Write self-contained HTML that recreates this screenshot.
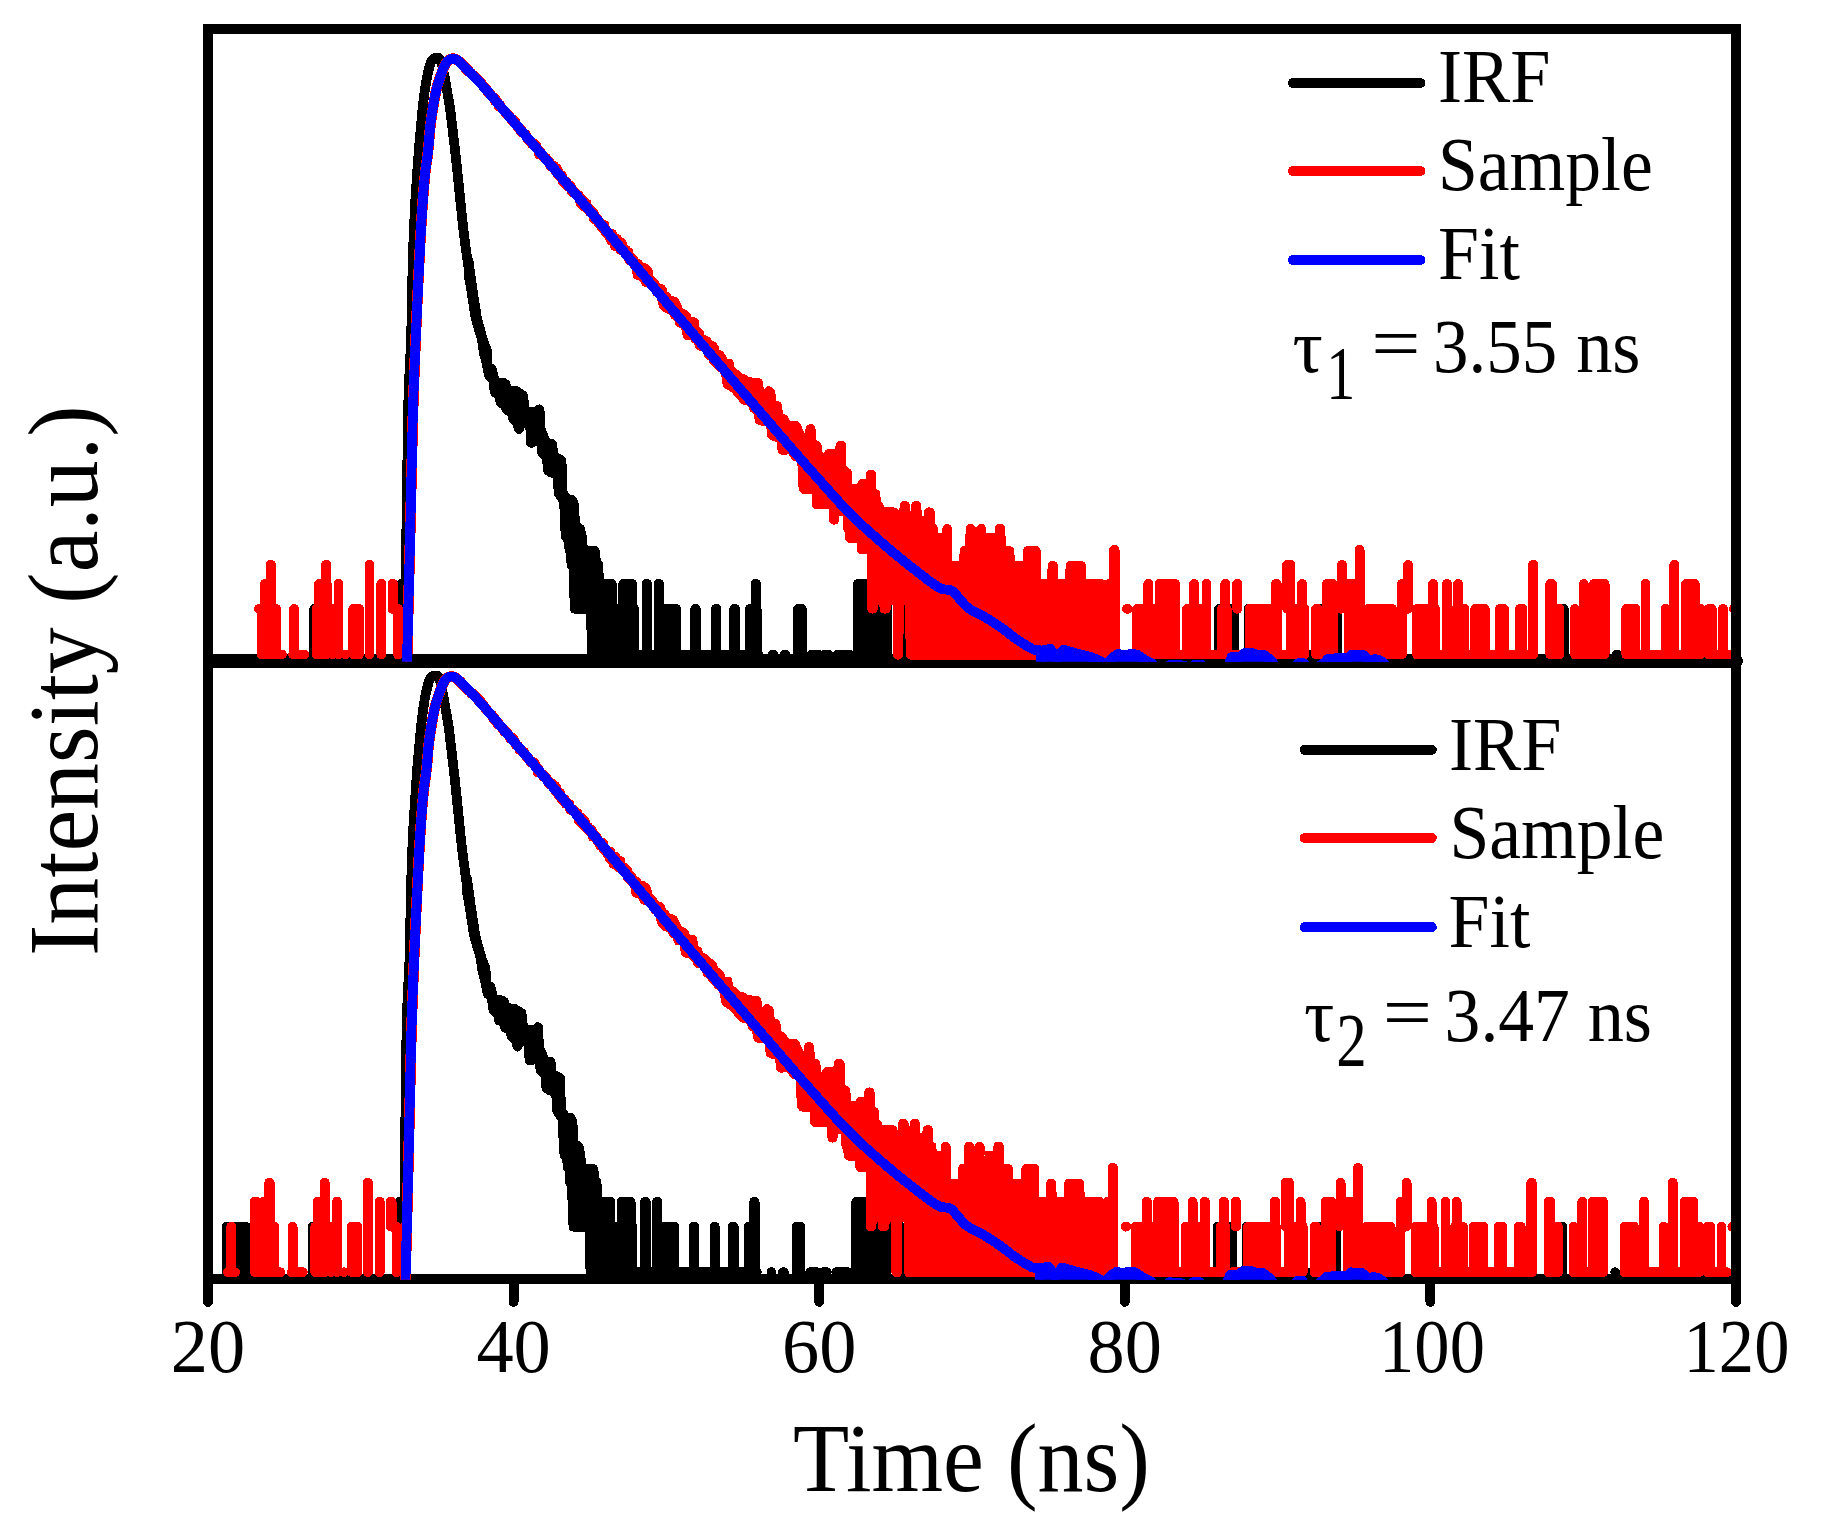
<!DOCTYPE html>
<html lang="en"><head><meta charset="utf-8"><title>TCSPC decay</title>
<style>html,body{margin:0;padding:0;background:#fff}svg{display:block}</style></head>
<body>
<svg shape-rendering="crispEdges" width="1824" height="1532" viewBox="0 0 1824 1532">
<rect width="1824" height="1532" fill="#fff"/>
<defs>
<clipPath id="c1"><rect x="213" y="24" width="1518" height="637.8"/></clipPath>
<clipPath id="c2"><rect x="213" y="664" width="1518" height="615.8"/></clipPath>
<g id="kdat" fill="#000" stroke="#000" stroke-width="9.8" stroke-linejoin="round" stroke-linecap="round">
<path fill="none" d="M406 612L406.3 536 406.9 500 407.8 430 408.1 410 408.4 400 408.9 386 409.6 370 410.7 348.1 411.1 340.1 411.5 322.1 412.3 280.1 412.7 264.1 413.7 234.1 415.1 204.1 415.9 192.2 417.5 168.2 419.1 146.3 422.2 112.4 423.5 100.5 424.8 90.6 426 82.7 427.5 74.8 429.4 67 430 65 430.6 63.1 431.4 61.4 432.5 59.6 434 58.3 435.9 57.7 437.9 57.7 439.6 58.4 440.5 60 441.9 64.2 442.8 68.1 444.8 77.9 448.9 101.5 449.9 107.4 450.7 113.4 455.6 155.1 457.1 169 462.6 222.7 464.5 238.6 466.9 256.5 468.3 266.4 471.6 288.1 474.1 306 475.8 315.8 477 321.7 478.4 327.5 480.1 333.3 482.5 341"/>
<path d="M468.5 260.8L472 286.4 477 318.8 483.5 342.1 487 350.6 487.5 363.9 488 366 488.5 366.7 489.5 367.6 491.5 368.6 492 369.8 494.5 379.8 495.5 381.1 497 382 498 382.4 503 382.6 505.5 384 506.5 387.9 507 388.7 508 389.6 509.5 390.2 516 391.1 523 395.4 523.5 399 524 405.8 525 409.8 526 411.1 527 411.8 528.5 412.2 535 412.2 536 412 537 411.5 539.5 409.3 540.5 428.6 541 430.7 545 440 545.5 441.2 546 441.9 546.5 442.5 547.5 443.1 549 443.6 551.5 443.6 552 443.9 552.5 446.3 553 453.3 553.5 455.3 554 456.1 554.5 456.6 555.5 457.3 560 459.2 561.5 460.4 562.5 491.2 563 493.3 566 497.8 567 498.9 568 499.5 569 499.9 572 500 572.5 500.7 574 504.8 575 523.1 575.5 525.1 576 525.9 577 526.8 580 528.8 581.5 534.9 582 538.8 582.5 545.3 583 547.4 584 549.2 585 550.2 586 550.7 587.5 550.9 594.5 550.9 595 551.4 595.5 558 596 560.2 596.5 562.3 598 564.2 599 579 599.5 581 600.5 582.3 601.5 583 602.5 583.5 604 583.8 607.5 583.8 607.5 654.4 592 654.4 591 613.3 590.5 611.2 590 610.5 589 609.6 588 609.1 587 608.8 575 608.8 574.5 600.6 573.5 568.7 573 566.6 571.5 564.7 571 553.3 570.5 551.2 569.5 549.9 568.5 541.3 568 539.3 567.5 538.5 566 537 565.5 533.2 564.5 510.2 564 502.3 563.5 500.2 559 493.8 558.5 490.9 558 480.4 557 476 556.5 475.2 555.5 474.3 550.5 472.1 548 470.4 547 459.4 546.5 457.4 546 456.2 545.5 455.5 542.5 452.9 542 451.7 541.5 445.2 541 443.2 540.5 442.4 540 441.9 539 441.2 537.5 440.6 536.5 440.5 535.5 440.6 534.5 441 533.5 441.7 532.5 442.6 531 442.7 530.5 429.5 530 427.4 529 425.6 527.5 424.1 526 423.2 524.5 422.9 523 423.2 522 423.7 521 424.6 520 426.3 519 428.9 518.5 427.5 517.5 423.1 516.5 421.7 513 418.2 512 413.7 511.5 413 510 411.6 506.5 409.6 505.5 405.6 504.5 404.3 503 403.5 500.5 402.7 500 399 499.5 397 499 395.9 498 394.7 495 392.3 494.5 390.2 494 385.2 493.5 381.8 493 379.7 492 378.4 489.5 376.4 489 375 486.5 362.7 486 360.6 484.5 355.6 484 353.5 482 340.2 481 336.1 475.5 317.3 471 288.3 468.5 274.1Z"/>
<path d="M314.3 608.8V654.4M401.2 583.8V654.4M606 583.8H611.8V654.4H606ZM623.3 583.8H632.1V654.4H623.3ZM617.2 608.8V654.4M634 608.8H634V654.4H634ZM646.6 583.8H647.2V654.4H646.6ZM658.6 583.8H659V654.4H658.6ZM663.6 608.8H676V654.4H663.6ZM592 654.4H758.2M695.2 608.8H695.7V654.4H695.2ZM715.9 608.8H716.3V654.4H715.9ZM734.3 608.8H735.2V654.4H734.3ZM749.9 608.8H756.6V654.4H749.9ZM755.7 583.8H756.1V654.4H755.7ZM773 654.4H773M784.5 654.4H785.4M798.1 608.8H801.8V654.4H798.1ZM811.6 654.4H818.3M837.9 654.4H849.5M857.8 583.8H887.5V654.4H857.8ZM824.9 654.4H828.3M839.7 654.4H849.6M902.2 608.8H902.3V654.4H902.2ZM973.7 608.8H973.8V654.4H973.7ZM979.5 608.8H979.6V654.4H979.5ZM1219.1 608.8H1233.9V654.4H1219.1ZM1248.4 608.8V654.4M1318.8 608.8V654.4M1308.6 654.4h0.01M1323.6 608.8V654.4M1337.1 608.8V654.4M1563.8 608.8V654.4M1616.7 654.4h0.01M1703.4 654.4h0.01"/>
</g>
<g id="rdat" fill="#ff0000" stroke="#ff0000" stroke-width="9.8" stroke-linejoin="round" stroke-linecap="round">
<path fill="none" stroke-width="10.7" d="M406.7 672L410 540 412.7 422.1 413.2 404.1 413.9 384.1 415.1 352.1 416.9 310.2 418.3 280.2 420.4 238.2 421.6 218.3 422.8 200.3 423.9 186.3 425.2 172.4 425.9 166.5 427.4 156.6 428.1 150.6 428.7 144.6 429.8 130.7 430.7 122.7 432.1 112.8 434.1 101 435.6 93.1 436.5 89.2 437.5 85.4 438.7 81.6 440 77.8 442.7 70.2 444.2 66.4 445.1 64.7 446.1 63 447.4 61.3 448.9 60.1 450.7 59.2 452.6 58.6 454.6 58.9 456.5 59.7 458.1 60.7 459.7 62 462.6 64.8 465.3 67.8 469.5 72"/>
<path fill="none" d="M462 64.3L462.8 65.2 463.5 65.6 464.2 66 465 67.1 465.8 67.5 466.5 69.1 467.2 70.8 468 70.2 468.8 70.8 469.5 72.4 470.2 73 471 73.6 471.8 73.5 472.5 75 473.2 76.3 474 75.4 474.8 76.9 475.5 76.5 476.2 77.7 477 78 477.8 80.1 478.5 80.1 479.2 82.1 480 82.8 480.8 83.4 481.5 82.3 482.2 84.7 483 86 483.8 87 484.5 86.4 485.2 88.2 486 88.6 486.8 89.6 487.5 92.1 488.2 91.3 489 92.9 489.8 94.6 490.5 94.1 491.2 95.4 492 96.5 492.8 97.4 493.5 97.1 494.2 99.1 495 101.2 495.8 99.4 496.5 102.5 497.2 102.7 498 102.9 498.8 106.3 499.5 106 500.2 104.9 501 107 501.8 108.4 502.5 108.5 503.2 110.2 504 110.4 504.8 112 505.5 113.6 506.2 112.3 507 114.1 507.8 114.3 508.5 115.8 509.2 115.3 510 116.8 510.8 118.1 511.5 120.1 512.2 121.2 513 119.4 513.8 120.9 514.5 123.3 515.2 121.3 516 123.8 516.8 125.1 517.5 127.5 518.2 127.8 519 127.5 519.8 128.3 520.5 129.3 521.2 132.3 522 130.8 522.8 131.8 523.5 133.5 524.2 133.8 525 134.6 525.8 134.3 526.5 136.6 527.2 136.9 528 139.8 528.8 140 529.5 140 530.2 141.8 531 141.4 531.8 144 532.5 143.6 533.2 145.2 534 143.6 534.8 146.6 535.5 144.8 536.2 145.2 537 148.4 537.8 148.5 538.5 150.8 539.2 154.5 540 151.2 540.8 152.3 541.5 154.4 542.2 155.6 543 155.6 543.8 156.4 544.5 158.6 545.2 159.2 546 157.8 546.8 160.1 547.5 161.1 548.2 160.4 549 163.2 549.8 162.4 550.5 166.1 551.2 165.8 552 166.5 552.8 166.3 553.5 167.9 554.2 165.8 555 168.1 555.8 171.3 556.5 168.2 557.2 173.9 558 170.5 558.8 175.5 559.5 173.8 560.2 177.3 561 177.1 561.8 175.2 562.5 180.8 563.2 182 564 180.3 564.8 180.9 565.5 181.9 566.2 181.4 567 185.9 567.8 183.9 568.5 185.6 569.2 185.2 570 186.4 570.8 186 571.5 191.6 572.2 189.9 573 192.8 573.8 192 574.5 191.5 575.2 193.1 576 193.5 576.8 195.5 577.5 195.6 578.2 196.6 579 195.4 579.8 197.4 580.5 203.2 581.2 199.4 582 199.5 582.8 203.2 583.5 206.3 584.2 201.3 585 204.8 585.8 204.8 586.5 203.3 587.2 209.4 588 208.7 588.8 209.8 589.5 208.9 590.2 212.4 591 211.1 591.8 212.9 592.5 211.6 593.2 212.3 594 218.9 594.8 215.6 595.5 218.4 596.2 218.5 597 218.5 597.8 219.2 598.5 222.8 599.2 221.5 600 222.7 600.8 224 601.5 227.7 602.2 227.4 603 227.6 603.8 226.2 604.5 225 605.2 231.7 606 232.7 606.8 230.8 607.5 233.4 608.2 235 609 236 609.8 237.1 610.5 234.4 611.2 240.6 612 234.1 612.8 240.7 613.5 240.6 614.2 242.5 615 246.2 615.8 246 616.5 239.6 617.2 239 618 246.9 618.8 242.7 619.5 246.4 620.2 249.8 621 243.5 621.8 243 622.5 250.8 623.2 251.1 624 251.1 624.8 252.9 625.5 251 626.2 249.9 627 254.9 627.8 253.3 628.5 252.1 629.2 259.7 630 258.9 630.8 261.2 631.5 257.7 632.2 259.6 633 259.4 633.8 260.7 634.5 265.1 635.2 262.8 636 267.4 636.8 268.3 637.5 274.9 638.2 264.2 639 272.9 639.8 270.4 640.5 271.6 641.2 267.5 642 271.8 642.8 277 643.5 274.9 644.2 276.4 645 276 645.8 282.1"/>
<path d="M644.5 268.2L647.5 270.9 648 271.8 648.5 276.2 649 278.2 649.5 279 654 283 656.5 287 657 287.5 658 288.2 659 288.7 661.5 289.3 662 290.1 663 293.9 664 295.2 665 295.9 666 296.3 666.5 296.8 667 298 668 299.3 669 300 674 301.6 674.5 302.1 677 306.8 678 310.7 678.5 311.5 679 312 680 312.7 684 314.4 684.5 314.7 686 316.2 687 320.2 687.5 320.9 688.5 321.8 689.5 322.3 690.5 322.6 692 322.5 693 322.1 694 322.2 694.5 326.9 695.5 330.6 696 331.4 697 332.3 698 332.8 699 333.1 700 337.4 700.5 338.2 701 338.7 702 339.4 706.5 341.1 708 343.5 708.5 344 709.5 344.7 712 345.9 713.5 347.4 714 348.3 715 351.8 715.5 352.6 716.5 353.5 719.5 355.2 721.5 357.6 722.5 361.6 723.5 362.9 724.5 363.6 726 364 727.5 363.9 728.5 363.6 729 363.6 729.5 367.1 730 369.2 730.5 370.5 731.5 371.8 735 373.9 739.5 378.2 741 378.8 743.5 379.2 747.5 381.8 749 382.2 758 383 758.5 386.5 759 391.8 759.5 393.9 760.5 395.2 761.5 395.8 762.5 396.2 764 396.3 765 396.1 766 395.5 767 394.6 767.5 393.9 768.5 391.3 769 391.6 770.5 392.8 771 398.8 772 403.4 773 404.7 774 405.4 775 405.7 777 406 778 413.7 778.5 415.8 779 416.5 779.5 417.1 780.5 417.7 783 418.8 783.5 419.3 786 423.6 787 424.5 788 425.1 789.5 425.5 796 426.1 796.5 426.5 798 430.5 801 436.5 801.5 437.2 802.5 438.2 804 438.8 805.5 438.9 807 438.4 808 437.8 808.5 437.2 809 436.5 809.5 435.3 810 433.3 810.5 429 811 432.5 811.5 440.8 812 442.8 812.5 443.6 813.5 444.5 817 446.1 818 456.6 818.5 458.7 819.5 459.9 820.5 460.6 822 461.1 823.5 461 825 460.3 826 459.4 826.5 458.7 828 455.1 828.5 454.3 829 454.4 832.5 456.1 833.5 456.5 834.5 456.6 835.5 456.5 837 455.8 838 454.9 839 453.6 839.5 451.5 840 447.6 840.5 446.5 841 446.8 841.5 466.3 842 468.4 842.5 469.2 847 473.9 847.5 478.7 847.5 506.1 833 490.3 831.5 489.4 830.5 489 829.5 488.9 804 488.9 803.5 487.8 803 482.5 802.5 467.2 802 461.3 801.5 459.2 801 458.4 800 457.5 799 457 796 456.5 795.5 456.1 792.5 451.4 792 450.8 791 450.2 789.5 449.6 788.5 449.5 782.5 450 781.5 441.5 781 439.4 780.5 438.7 780 438.2 779 437.5 773.5 435.8 772 435 771 425.2 770.5 423.1 770 422.3 769 421.4 767.5 420.8 766.5 420.7 761.5 420.7 761 420.6 759.5 419.8 759 415.7 758 411.4 757 410.1 754 408.2 752.5 403.3 752 402.6 751 401.7 750 401.2 744.5 399.8 738 392.6 736 390 735 388.8 727.5 384 726.5 376.7 726 374.7 724.5 370.8 723.5 369.1 723 368.6 722 367.9 720 367.1 718 363.9 717 363 714 360.8 713.5 359.7 713 358 712.5 357.2 711.5 356.3 709 355.1 708 350.9 707 349.2 705 346.8 704 346.2 703 345.8 700 345.7 699.5 345 698.5 341.4 698 340.7 697 339.8 695.5 338.9 694 336.7 693 335.8 692 335.3 691 335 687.5 335 687 333 686 327.2 685.5 325.1 685 324.3 684 323.4 683 322.9 682 322.7 680 322.7 679 318.8 678.5 317.9 678 317.1 677 316.2 675 315.3 674.5 314.6 673.5 312.3 673 311.5 672.5 311 671.5 310.3 667 308.3 664 305.7 663 303.4 662.5 301 662 297.5 661.5 295.4 661 294.6 660 293.7 657 292.2 656 289.1 655.5 288.3 655 287.8 652 285.5 647 280.1 645.5 279.1 644.5 278.7Z"/>
<path d="M816.5 461.3L825 461.3 826.2 461.1 827.2 460.6 828.2 459.7 829 458.3 829.2 456.8 829.5 453.9 836.5 453.9 837.8 453.5 839 452.6 839.5 451.9 840 450.9 840.2 449.4 840.5 445.7 841.2 445.7 841.5 468.4 841.8 469.8 842.5 471.2 843.8 472.3 845.2 472.8 847 472.9 847.2 484 847.5 485.5 847.8 486 848.2 486.8 849 487.5 850.2 488.2 851.5 488.5 858 488.5 859 488.3 860 487.9 861 487.1 861.8 486 862 485.5 862.2 484 862.5 483.6 866 483.6 867 483.4 868.5 482.8 869.5 481.9 870.2 480.5 870.5 479.1 870.8 474.5 871.2 474.5 871.5 489.7 871.8 491.2 872.2 492.2 873.2 493.3 874.2 493.9 875.5 494.2 875.8 502.1 876 503.6 876.5 504.6 877 505.2 877.8 505.8 878.8 506.3 879.2 509.3 880 510.7 881 511.6 882 512.1 883.2 512.3 894 512.3 894.2 512.8 894.5 514.2 894.8 514.8 895.5 515.9 896.2 516.5 897 516.9 898 517.2 899.8 517.3 900.8 517.2 901.8 516.8 902.8 516.1 903.5 515.3 904 514.2 904.2 512.8 904.5 505.8 905.2 505.8 905.5 511.1 905.8 512.6 906.2 513.6 907.2 514.7 908.5 515.4 909.8 515.6 912 515.6 913 515.3 914 514.7 914.8 514 915.2 513.2 915.5 512.6 915.8 511.1 916 505.8 916.5 505.8 916.8 516.1 917 517.5 917.8 518.9 918.8 519.8 920 520.4 921.2 520.6 924.5 520.6 925.2 520.4 926.5 520 927.5 519.2 928 518.5 928.5 517.5 928.8 516.1 929 512.3 929.8 512.3 930 524.3 930.2 525.8 930.8 526.8 931.2 527.4 932 528 933 528.5 933.2 533.3 933.5 534.8 934 535.8 934.8 536.7 936 537.5 937.5 537.8 943 537.8 944 537.6 945 537.1 946 536.2 946.8 534.8 947 533.3 947.2 528.8 947.5 561.3 947.8 562.8 948.2 563.8 949 564.6 950 565.3 950.8 565.6 951.8 565.8 960.5 565.7 961.5 565.4 962.5 564.9 963.2 564.1 963.8 563.3 964 562.8 964.2 561.3 964.5 551 966.5 550.9 968 550.4 969.2 549.3 970 548 970.2 546.5 970.5 528.8 971 528.8 971.2 529.2 971.5 530.7 971.8 531.3 972.8 532.6 973.5 533.1 974.2 533.5 975.8 533.7 977 533.7 977.8 533.5 978.8 533.1 979.5 532.6 980.5 531.3 980.8 530.7 981 529.2 981.2 528.8 981.5 533.3 981.8 534.8 982 535.4 982.8 536.4 983.8 537.2 984.8 537.7 986 537.8 995.2 537.8 996.5 537.6 997.5 537.1 998.5 536.2 999.2 534.8 999.5 533.3 999.8 528.8 1000.5 528.8 1000.8 546.5 1001 548 1001.5 549 1002 549.6 1002.8 550.2 1003.8 550.7 1005 551 1009.5 551 1009.8 561.3 1010 562.8 1010.2 563.3 1010.8 564.1 1011.5 564.9 1012.8 565.5 1014.2 565.8 1023.2 565.8 1024.2 565.6 1025.2 565.2 1026.5 564.1 1027.2 562.8 1027.5 561.3 1027.8 551 1035.8 551 1036 579.4 1036.2 580.9 1036.8 581.9 1037.2 582.5 1038 583.1 1038.8 583.5 1039.5 583.8 1040.5 583.9 1048.5 583.8 1049.5 583.5 1050.2 583.1 1051 582.5 1051.5 581.9 1052 580.9 1052.2 579.4 1052.5 565.8 1053 565.8 1053.2 579.4 1053.5 580.9 1054.2 582.2 1055.2 583.1 1056.5 583.7 1057.8 583.9 1066.5 583.8 1067.5 583.5 1068.2 583.1 1069 582.5 1069.5 581.9 1070 580.9 1070.2 579.4 1070.5 565.8 1081 565.8 1081.2 579.4 1081.5 580.9 1082 581.9 1082.8 582.7 1083.5 583.3 1084.2 583.6 1085.2 583.9 1101 583.9 1101.2 604.9 1101.5 606.4 1102 607.4 1102.5 608 1103.2 608.6 1104.2 609.1 1105.2 609.3 1106.8 609.4 1107.8 609.3 1108.5 609 1108.5 654.7 910.5 654.7 910.2 604.1 910 602.6 909.8 602 909 601 908.2 600.3 907.5 599.9 906.5 599.6 903.2 599.6 902.2 599.7 901.5 599.9 900.8 600.3 900 601 899.5 601.6 899 602.6 898.8 604.1 898.5 654.7 897.8 654.7 897.5 604.1 897.2 602.6 897 602 896.5 601.2 895.8 600.5 895 600 894 599.7 893.2 599.6 890.5 599.6 889.5 599.8 888.8 600 887.5 601 887 601.6 886.5 602.6 886.2 604.1 886 608.6 884.5 608.6 884.2 604.1 884 602.6 883.5 601.6 883 601 881.8 600 880.5 599.6 877.5 599.6 876.5 599.8 875 600.5 874.2 601.2 873.8 602 873.5 602.6 873.2 604.1 873 608.6 872.2 608.6 872 553.9 871.8 552.4 871.5 551.8 871 551.1 870.2 550.3 869.5 549.9 868.5 549.5 867.5 549.4 861.8 549.4 861.5 542.4 861.2 540.9 860.5 539.6 859.5 538.7 858.5 538.2 857.2 537.9 850 537.9 849.8 531.7 849.5 530.2 848.8 528.9 847.8 528 847.5 515.3 847.2 513.8 847 513.2 846 511.9 844.8 511.1 843.2 510.8 838.5 510.8 837.5 511 836.5 511.5 835.5 512.4 834.8 513.8 834.5 515.3 834.2 519.8 833.8 519.8 833.5 508.7 833.2 507.2 833 506.6 832 505.3 830.8 504.5 829.2 504.2 816.5 504.2Z"/>
<path d="M258.8 608.8H258.9M261.5 608.8H276V654.4H261.5ZM264.8 583.8H271.2V654.4H264.8ZM270.7 564.8H271.2V654.4H270.7ZM279.9 654.4H281.9M294.1 608.8V654.4M293.1 654.4H304.3M316.7 608.8H326.7V654.4H316.7ZM319.1 583.8H326.7V654.4H319.1ZM326 564.8H326.3V654.4H326ZM338.5 583.8H338.5V654.4H338.5ZM332.6 608.8V654.4M345.4 654.4h0.01M353.3 608.8H359V654.4H353.3ZM369.4 564.8H369.4V654.4H369.4ZM381.2 583.8H381.3V654.4H381.2ZM392.4 583.8H393.1V608.8H392.4ZM398 608.8V654.4M1099.6 583.8H1100.4V654.4H1099.6ZM1107.6 608.8V654.4M1108.9 583.8V654.4M1114.1 550H1114.6V654.4H1114.1ZM1127 608.8H1127.7M1137.1 608.8H1175.1V654.4H1137.1ZM1148.3 583.8H1148.4V654.4H1148.3ZM1153.9 608.8V654.4M1159.5 583.8H1175.1V654.4H1159.5ZM1186.7 654.4H1210.9M1187.1 608.8H1206V654.4H1187.1ZM1194.1 583.8V654.4M1206.4 583.8V654.4M1180.9 654.4h0.01M1222 608.8H1226.7V654.4H1222ZM1225.3 583.8H1225.4V654.4H1225.3ZM1237.1 583.8H1237.5V608.8H1237.1ZM1233.8 654.4H1241.2M1249.6 608.8H1277.5V654.4H1249.6ZM1276 583.8H1276.7V654.4H1276ZM1287.1 564.8H1290.5V608.8H1287.1ZM1290.4 608.8H1304.3V654.4H1290.4ZM1302.1 583.8V654.4M1284.2 654.4h0.01M1316.1 608.8H1317.5V654.4H1316.1ZM1328.6 583.8H1331.9V654.4H1328.6ZM1323.7 654.4h0.01M1326.9 583.8H1332.9V654.4H1326.9ZM1341.1 583.8V608.8M1349.2 583.8H1359.8V654.4H1349.2ZM1342 564.8H1342.1V583.8H1342ZM1359.4 550H1359.6V583.8H1359.4ZM1368.3 608.8H1392.1V654.4H1368.3ZM1401.9 583.8V654.4M1408.1 564.8H1408.1V608.8H1408.1ZM1403.8 583.8H1407.2V608.8H1403.8ZM1417 608.8H1435.1V654.4H1417ZM1433.1 583.8H1433.1V608.8H1433.1ZM1447 583.8V654.4M1458.1 583.8H1458.1V654.4H1458.1ZM1456.5 608.8H1464.4V654.4H1456.5ZM1475.3 608.8H1484.8V654.4H1475.3ZM1492.4 654.4h0.01M1499.9 608.8H1503.9V654.4H1499.9ZM1511.8 654.4h0.01M1519.9 608.8H1522.3V654.4H1519.9ZM1532.8 564.8H1533.3V654.4H1532.8ZM1527.9 654.4h0.01M1550.2 583.8H1551.9V654.4H1550.2ZM1559.5 608.8V654.4M1533.1 564.8H1533.3V654.4H1533.1ZM1550.6 583.8H1551.9V654.4H1550.6ZM1559.5 608.8V654.4M1574.9 608.8V654.4M1583.8 583.8V654.4M1594 583.8H1604.6V654.4H1594ZM1626.2 608.8H1635.5V654.4H1626.2ZM1645.5 583.8V654.4M1653.8 654.4H1657.2M1665.4 608.8V654.4M1674.2 564.8H1674.3V654.4H1674.2ZM1686.1 583.8H1694.7V654.4H1686.1ZM1680.5 654.4h0.01M1700.6 608.8V654.4M1709 608.8H1711.8V654.4H1709ZM1722.9 608.8H1723V654.4H1722.9ZM1733.8 608.8h0.01M1728.6 654.4h0.01M1137.1 654.4H1226.7M1249.6 654.4H1304.3M1316.1 654.4H1318.8M1326.9 654.4H1332.9M1349.2 654.4H1400.6M1417 654.4H1533.5M1550.2 654.4H1555.1M1524.9 654.4H1533.5M1550.6 654.4H1559.2M1575.6 654.4H1604.6M1626.2 654.4H1698M1709 654.4H1725.6"/>
</g>
<g id="bdat" fill="none" stroke="#0000ff" stroke-width="9.8" stroke-linejoin="round" stroke-linecap="butt">
<path d="M406.7 672L410 540 412.6 424.1 413.5 394.1 414.4 370.1 416 332.1 418.2 284.2 420.9 230.2 422 212.3 423.1 196.3 424 184.4 425.2 172.4 425.9 166.5 427.4 156.6 428.1 150.6 428.7 144.6 429.6 132.7 430.4 124.7 431.5 116.8 433 106.9 434.4 99 435.6 93.1 437 87.3 438.7 81.6 442.7 70.2 444.2 66.4 445.1 64.7 446.1 63 447.4 61.3 448.9 60.1 450.7 59.2 452.6 58.6 454.6 58.9 456.5 59.7 458.1 60.7 459.7 62 462.6 64.8 466.7 69.2 476.6 79.1 480.7 83.5 486 89.4 499 104.7 536.8 148.6 568 185.1 595.1 217.2 646.4 278.7 668.2 304.7 702 344.3 765.8 418.7 790.6 447.4 810.4 470 837 499.8 843.8 507.2 849.4 512.9 856.4 520 865.2 528.1 874.2 536.1 886.3 546.6 897 555.6 906.4 563.2 915.8 570.6 928.4 580.4 933.3 583.9 938.4 587.2 940.1 588.2 941.9 588.9 943.9 589.3 950 590.1 951.8 590.6 953.3 591.5 954.7 593 957.4 596.3 960.1 599.3 964 604 965.4 605.4 966.8 606.8 968.3 608 969.9 609.1 973.3 611.1 980.6 614.7 984.1 616.6 991 620.8 997.6 625.2 1002.6 628.6 1012.1 635.9 1016.9 639.5 1020.3 641.7 1025.3 644.9 1032.3 648.9 1033.8 649.7 1042 650.5 1050.3 648.8 1056.8 658.7 1063.4 649.7 1074.9 653 1091.4 657.1 1106.2 663.6 1113.2 657.1 1118.4 653.8 1123.7 655.8 1130.3 653.8 1136.8 654.5 1144.7 659.8 1152.6 663.7 1156.6 667.7 1161.8 669 1165.8 667.7 1171.1 664.4 1184.2 665.7 1186.8 667.7 1188.8 669 1190.8 667.7 1194.7 664.4 1201.3 664.4 1205.3 667.7 1209.2 669.6 1223.7 669.6 1227.6 667.7 1231.6 657.1 1239.5 657.1 1244.7 653.2 1252.6 653.2 1257.9 655.2 1264.5 655.2 1271.1 660.4 1277 667.7 1281.6 669.6 1289.5 669.6 1294.1 667.7 1298.7 663.1 1303.9 663.1 1307.2 667.7 1311.8 669.6 1317.1 667.7 1323.7 663.1 1325.3 663.1 1327.6 659.1 1340 657.8 1348.9 658.1 1352.2 654.5 1363.4 655.2 1370 660.4 1375.3 659.1 1380.5 660.4 1389.1 667.7 1412.1 669.6 1570 669.6"/>
<path fill="#0000ff" d="M1041 690L1041 651.2 1042 650.5 1050.3 648.8 1056.8 658.7 1063.4 649.7 1074.9 653 1091.4 657.1 1106.2 663.6 1113.2 657.1 1118.4 653.8 1123.7 655.8 1130.3 653.8 1136.8 654.5 1144.7 659.8 1152.6 663.7 1156.6 667.7 1161.8 669 1165.8 667.7 1171.1 664.4 1184.2 665.7 1186.8 667.7 1188.8 669 1190.8 667.7 1194.7 664.4 1201.3 664.4 1205.3 667.7 1209.2 669.6 1223.7 669.6 1227.6 667.7 1231.6 657.1 1239.5 657.1 1244.7 653.2 1252.6 653.2 1257.9 655.2 1264.5 655.2 1271.1 660.4 1277 667.7 1281.6 669.6 1289.5 669.6 1294.1 667.7 1298.7 663.1 1303.9 663.1 1307.2 667.7 1311.8 669.6 1317.1 667.7 1323.7 663.1 1325.3 663.1 1327.6 659.1 1340 657.8 1348.9 658.1 1352.2 654.5 1363.4 655.2 1370 660.4 1375.3 659.1 1380.5 660.4 1389.1 667.7 1412.1 669.6 1570 669.6 1570 690Z"/>
</g>
</defs>
<g fill="#000">
<rect x="203" y="24" width="10" height="1260"/>
<rect x="203" y="654" width="1538" height="14"/>
<circle cx="1738" cy="661" r="5"/>
<rect x="203" y="1274" width="1538" height="10"/>
</g>
<g stroke="#000" stroke-width="10" stroke-linecap="round">
<line x1="208" y1="1280" x2="208" y2="1301.8"/>
<line x1="513.6" y1="1280" x2="513.6" y2="1301.8"/>
<line x1="819.2" y1="1280" x2="819.2" y2="1301.8"/>
<line x1="1124.8" y1="1280" x2="1124.8" y2="1301.8"/>
<line x1="1430.4" y1="1280" x2="1430.4" y2="1301.8"/>
<line x1="1736" y1="1280" x2="1736" y2="1301.8"/>
</g>
<g clip-path="url(#c1)"><use href="#kdat"/><use href="#rdat"/><use href="#bdat"/></g>
<g clip-path="url(#c2)">
<g fill="#000" stroke="#000" stroke-width="9.8" stroke-linejoin="round" stroke-linecap="round"><path d="M226.6 1226.6H245.8V1272.2H226.6Z"/></g>
<use href="#kdat" transform="translate(-1.5 617.8)"/>
<g fill="#ff0000" stroke="#ff0000" stroke-width="9.8" stroke-linejoin="round" stroke-linecap="round"><path d="M231.2 1226.6H231.3V1272.2H231.2ZM227.9 1272.2H235.2M254.9 1201.6H256.9V1272.2H254.9Z"/></g>
<use href="#rdat" transform="translate(-1.5 617.8)"/>
<use href="#bdat" transform="translate(-1.5 617.8)"/>
</g>
<g fill="#000">
<rect x="203" y="24" width="1538" height="10"/>
<rect x="1731" y="24" width="10" height="1260"/>
</g>
<g font-family="'Liberation Serif', 'Times New Roman', serif" fill="#000">
<line x1="1292.9" y1="83" x2="1420.3" y2="83" stroke="#000" stroke-width="10" stroke-linecap="round"/>
<line x1="1292.9" y1="171" x2="1420.3" y2="171" stroke="#ff0000" stroke-width="10" stroke-linecap="round"/>
<line x1="1292.9" y1="260" x2="1420.3" y2="260" stroke="#0000ff" stroke-width="10" stroke-linecap="round"/>
<text x="1438" y="102.2" font-size="75.5" textLength="112.5" lengthAdjust="spacingAndGlyphs">IRF</text>
<text x="1437.9" y="190.1" font-size="75.5" textLength="214.9" lengthAdjust="spacingAndGlyphs">Sample</text>
<text x="1438" y="278.8" font-size="75.5" textLength="81.9" lengthAdjust="spacingAndGlyphs">Fit</text>
<line x1="1304.7" y1="749.8" x2="1431.8" y2="749.8" stroke="#000" stroke-width="10" stroke-linecap="round"/>
<line x1="1304.7" y1="838" x2="1431.8" y2="838" stroke="#ff0000" stroke-width="10" stroke-linecap="round"/>
<line x1="1304.7" y1="927.1" x2="1431.8" y2="927.1" stroke="#0000ff" stroke-width="10" stroke-linecap="round"/>
<text x="1449" y="769.5" font-size="75.5" textLength="112.5" lengthAdjust="spacingAndGlyphs">IRF</text>
<text x="1449.4" y="857.8" font-size="75.5" textLength="214.9" lengthAdjust="spacingAndGlyphs">Sample</text>
<text x="1448.6" y="946.9" font-size="75.5" textLength="81.9" lengthAdjust="spacingAndGlyphs">Fit</text>
<text font-size="75.5" x="1292.5" y="372.4">τ</text>
<text font-size="75.5" x="1340.8" y="398.9" textLength="29" lengthAdjust="spacingAndGlyphs" text-anchor="middle">1</text>
<text font-size="75.5" x="1371.3" y="369.4" textLength="49.3" lengthAdjust="spacingAndGlyphs">=</text>
<text font-size="75.5" x="1433.1" y="372.4" textLength="124.1" lengthAdjust="spacingAndGlyphs">3.55</text>
<text font-size="75.5" x="1576.2" y="372.4" textLength="64.3" lengthAdjust="spacingAndGlyphs">ns</text>
<text font-size="75.5" x="1304" y="1040.9">τ</text>
<text font-size="75.5" x="1351.4" y="1065.7" textLength="30.5" lengthAdjust="spacingAndGlyphs" text-anchor="middle">2</text>
<text font-size="75.5" x="1382.8" y="1037.9" textLength="49.3" lengthAdjust="spacingAndGlyphs">=</text>
<text font-size="75.5" x="1444.6" y="1040.9" textLength="125.3" lengthAdjust="spacingAndGlyphs">3.47</text>
<text font-size="75.5" x="1587.7" y="1040.9" textLength="64.3" lengthAdjust="spacingAndGlyphs">ns</text>
<text x="208" y="1372.4" font-size="75.5" text-anchor="middle" textLength="74.4" lengthAdjust="spacingAndGlyphs">20</text>
<text x="513.6" y="1372.4" font-size="75.5" text-anchor="middle" textLength="74.4" lengthAdjust="spacingAndGlyphs">40</text>
<text x="819.2" y="1372.4" font-size="75.5" text-anchor="middle" textLength="74.4" lengthAdjust="spacingAndGlyphs">60</text>
<text x="1124.8" y="1372.4" font-size="75.5" text-anchor="middle" textLength="74.4" lengthAdjust="spacingAndGlyphs">80</text>
<text x="1432" y="1372.4" font-size="75.5" text-anchor="middle" textLength="105.8" lengthAdjust="spacingAndGlyphs">100</text>
<text x="1736.5" y="1372.4" font-size="75.5" text-anchor="middle" textLength="105.8" lengthAdjust="spacingAndGlyphs">120</text>
<text x="971.5" y="1490.6" font-size="97" text-anchor="middle" textLength="357" lengthAdjust="spacingAndGlyphs">Time (ns)</text>
<text transform="translate(96.6 680.7) rotate(-90)" font-size="100" text-anchor="middle" textLength="550.6" lengthAdjust="spacingAndGlyphs">Intensity (a.u.)</text>
</g>
</svg>
</body></html>
